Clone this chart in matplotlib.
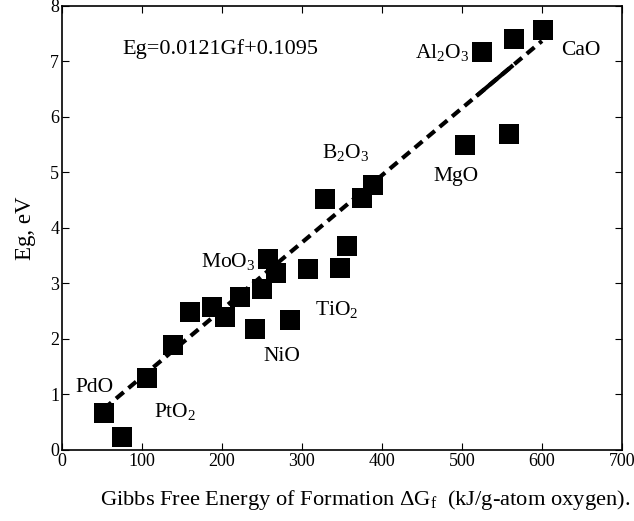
import numpy as np
import matplotlib
matplotlib.use("Agg")
import matplotlib.pyplot as plt

plt.rcParams['font.family'] = ['Liberation Serif', 'DejaVu Serif']
plt.rcParams['mathtext.fontset'] = 'custom'
plt.rcParams['mathtext.rm'] = 'Liberation Serif'
plt.rcParams['mathtext.it'] = 'Liberation Serif:italic'

# data
gf = [52, 75, 106, 139, 160, 187, 204, 222, 241, 250, 258, 268, 285,
      307, 347, 356, 329, 375, 389, 504, 559, 525, 565, 601]
eg = [0.66, 0.23, 1.30, 1.90, 2.49, 2.58, 2.40, 2.76, 2.18, 2.90, 3.45, 3.19,
      2.34, 3.27, 3.28, 3.68, 4.52, 4.54, 4.78, 5.49, 5.69, 7.18, 7.41, 7.56]

# fit Eg = 0.0121 Gf + 0.1095
slope, intercept = 0.0121, 0.1095
fit_range = [52, 600]
solid_range = [520, 562]

names = ['PdO', 'PtO$_2$', 'NiO', 'MoO$_3$', 'TiO$_2$', 'B$_2$O$_3$',
         'MgO', 'Al$_2$O$_3$', 'CaO']
name_x = [41, 141, 275, 208, 343, 354, 493, 475, 648]
name_y = [1.12, 0.70, 1.69, 3.39, 2.54, 5.36, 4.93, 7.17, 7.20]

fig = plt.figure(figsize=(6.34, 5.21), dpi=100)
ax = fig.add_axes([0.0978, 0.1363, 0.8832, 0.8522])

fx = np.array(fit_range)
ax.plot(fx, slope * fx + intercept, color='black', lw=3, dashes=(2.4, 1.5), zorder=2)
sx = np.array(solid_range)
ax.plot(sx, slope * sx + intercept, color='black', lw=3, zorder=2)

ax.plot(gf, eg, 's', color='black', ms=14.4, mec='black', mew=0, zorder=3)

for n, x, y in zip(names, name_x, name_y):
    ax.text(x, y, n, fontsize=15.5, ha='center', va='center')

ax.text(75, 7.23, 'Eg=0.0121Gf+0.1095', fontsize=16, ha='left', va='center')

ax.set_xlim(0, 700)
ax.set_ylim(0, 8)
ax.set_xticks(range(0, 701, 100))
ax.set_yticks(range(0, 9))
ax.tick_params(direction='in', length=5, width=0.8, labelsize=13,
               top=True, right=True, pad=2)
for s in ax.spines.values():
    s.set_linewidth(1.2)

ax.set_ylabel('Eg, eV', fontsize=16.5, labelpad=10)
fig.text(0.576, 0.04, r'Gibbs Free Energy of Formation $\Delta$G$_\mathrm{f}$  (kJ/g-atom oxygen).',
         fontsize=16.2, ha='center', va='center')

fig.savefig('out.png', dpi=100)
